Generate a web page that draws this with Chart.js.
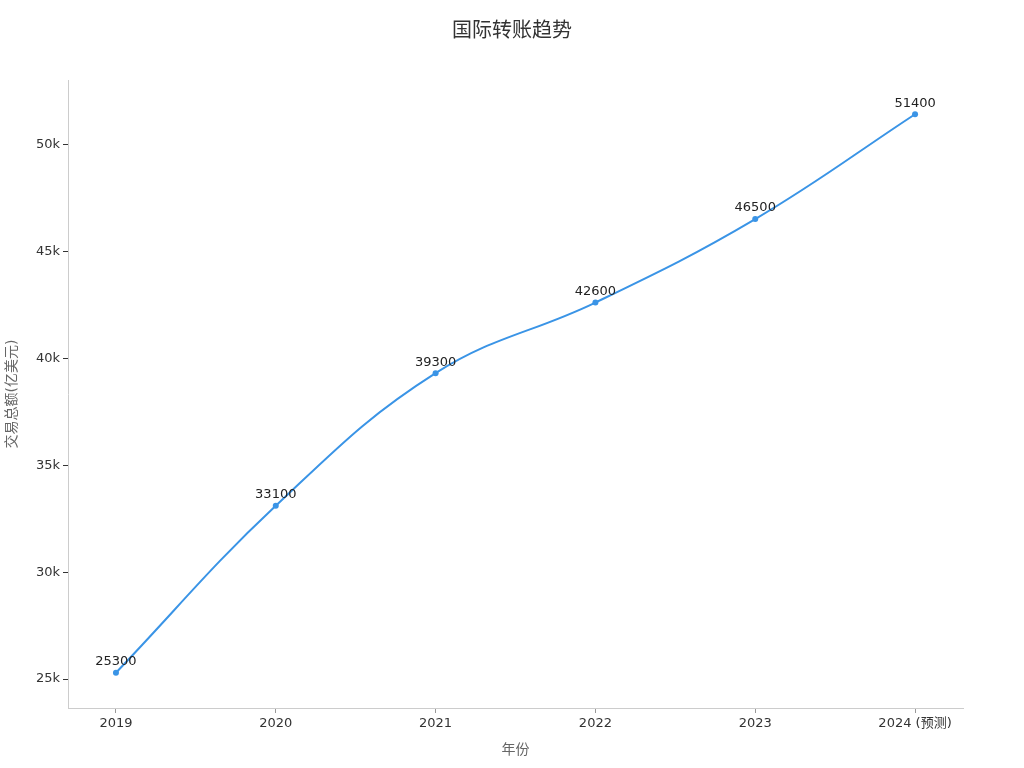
<!DOCTYPE html>
<html>
<head>
<meta charset="utf-8">
<title>国际转账趋势</title>
<script src="https://cdn.jsdelivr.net/npm/chart.js@4.4.1/dist/chart.umd.min.js"></script>
<style>
  html, body { margin: 0; padding: 0; background: #fff; }
  #chart { display: block; }
</style>
</head>
<body>
<canvas id="chart" width="1024" height="768"></canvas>
<script>
const years = ['2019', '2020', '2021', '2022', '2023', '2024 (预测)'];
const totals = [25300, 33100, 39300, 42600, 46500, 51400];
const yTicks = [25000, 30000, 35000, 40000, 45000, 50000];
const chartTitle = '国际转账趋势';

const fontFamily = "'DejaVu Sans', 'Noto Sans CJK SC', sans-serif";
const lineColor = '#3a94e6';

// point labels above each marker
const valueLabels = {
  id: 'valueLabels',
  afterDatasetsDraw(chart) {
    const ctx = chart.ctx;
    const meta = chart.getDatasetMeta(0);
    ctx.save();
    ctx.font = '13px ' + fontFamily;
    ctx.fillStyle = '#222';
    ctx.textAlign = 'center';
    ctx.textBaseline = 'middle';
    meta.data.forEach((pt, i) => {
      ctx.fillText(String(totals[i]), pt.x, pt.y - 11);
    });
    ctx.restore();
  }
};

// title centred on the whole canvas, not the chart area
const pageTitle = {
  id: 'pageTitle',
  afterDraw(chart) {
    const ctx = chart.ctx;
    ctx.save();
    ctx.font = '20px ' + fontFamily;
    ctx.fillStyle = '#333';
    ctx.textAlign = 'center';
    ctx.textBaseline = 'middle';
    ctx.fillText(chartTitle, chart.width / 2, 32);
    ctx.restore();
  }
};

const ctx = document.getElementById('chart').getContext('2d');

new Chart(ctx, {
  type: 'line',
  data: {
    datasets: [{
      label: '交易总额',
      data: totals.map((v, i) => ({ x: i, y: v })),
      borderColor: lineColor,
      backgroundColor: lineColor,
      borderWidth: 2,
      pointRadius: 3,
      pointBorderWidth: 0,
      tension: 0.4,
      fill: false
    }]
  },
  options: {
    responsive: false,
    animation: false,
    layout: { padding: { left: 0, right: 61, top: 80, bottom: 0 } },
    plugins: {
      legend: { display: false },
      tooltip: { enabled: false },
      title: { display: false }
    },
    scales: {
      x: {
        type: 'linear',
        min: -0.3,
        max: 5.3,
        afterBuildTicks: (scale) => {
          scale.ticks = years.map((y, i) => ({ value: i }));
        },
        afterFit: (scale) => { scale.height = 60; },
        ticks: {
          color: '#333',
          font: { family: fontFamily, size: 13 },
          padding: 3,
          maxRotation: 0,
          callback: (value) => years[value]
        },
        grid: {
          drawOnChartArea: false,
          drawTicks: true,
          tickLength: 5,
          tickColor: '#999'
        },
        border: { color: '#ccc', width: 1 },
        title: {
          display: true,
          text: '年份',
          color: '#666',
          font: { family: fontFamily, size: 14 },
          padding: { top: 0, bottom: 9 }
        }
      },
      y: {
        type: 'linear',
        min: 23650,
        max: 53000,
        afterBuildTicks: (scale) => {
          scale.ticks = yTicks.map(v => ({ value: v }));
        },
        afterFit: (scale) => { scale.width = 68; },
        ticks: {
          color: '#333',
          font: { family: fontFamily, size: 13 },
          padding: 3,
          callback: (value) => (value / 1000) + 'k'
        },
        grid: {
          drawOnChartArea: false,
          drawTicks: true,
          tickLength: 5,
          tickColor: '#333'
        },
        border: { color: '#ccc', width: 1 },
        title: {
          display: true,
          text: '交易总额(亿美元)',
          color: '#666',
          font: { family: fontFamily, size: 14 },
          padding: { top: 4, bottom: 0 }
        }
      }
    }
  },
  plugins: [valueLabels, pageTitle]
});
</script>
</body>
</html>
